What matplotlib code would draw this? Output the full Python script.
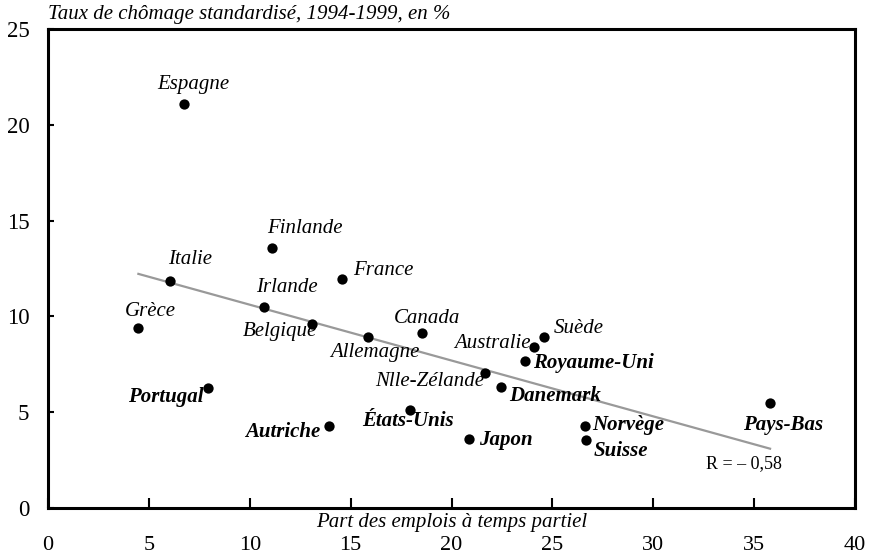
import numpy as np
import matplotlib
matplotlib.use("Agg")
import matplotlib.pyplot as plt

plt.rcParams['font.family'] = ['Liberation Serif', 'DejaVu Serif']

countries = ["Espagne", "Finlande", "Italie", "France", "Irlande", "Grèce", "Belgique",
             "Allemagne", "Canada", "Australie", "Suède", "Royaume-Uni", "Nlle-Zélande",
             "Danemark", "Portugal", "États-Unis", "Autriche", "Japon", "Norvège",
             "Suisse", "Pays-Bas"]
part_time = [6.72, 11.10, 6.05, 14.59, 10.72, 4.48, 13.09, 15.88, 18.52, 24.10, 24.60,
             23.64, 21.66, 22.45, 7.95, 17.94, 13.93, 20.88, 26.62, 26.65, 35.79]
unemployment = [21.09, 13.59, 11.85, 11.97, 10.51, 9.38, 9.59, 8.94, 9.12, 8.42, 8.91,
                7.67, 7.03, 6.33, 6.25, 5.11, 4.28, 3.58, 4.30, 3.55, 5.50]
bold_countries = ["Portugal", "Autriche", "États-Unis", "Japon", "Royaume-Uni",
                  "Danemark", "Norvège", "Suisse", "Pays-Bas"]
x_ticks = [0, 5, 10, 15, 20, 25, 30, 35, 40]
y_ticks = [0, 5, 10, 15, 20, 25]
r_text = "R = – 0,58"
y_title = "Taux de chômage standardisé, 1994-1999, en %"
x_title = "Part des emplois à temps partiel"

# label placement: (dx px, dy px, ha)
label_pos = {
    "Espagne": (10, 19, "center"), "Finlande": (33, 19, "center"),
    "Italie": (20, 21, "center"), "France": (11, 8, "left"),
    "Irlande": (23, 19, "center"), "Grèce": (12, 17, "center"),
    "Belgique": (5, -7, "right"), "Allemagne": (6, -16, "center"),
    "Canada": (5, 15, "center"), "Australie": (-4, 3, "right"),
    "Suède": (9, 9, "left"), "Royaume-Uni": (8, -2, "left"),
    "Nlle-Zélande": (-1, -8, "right"), "Danemark": (8, -9, "left"),
    "Portugal": (-5, -9, "right"), "États-Unis": (-2, -11, "center"),
    "Autriche": (-9, -6, "right"), "Japon": (10, -1, "left"),
    "Norvège": (7, 1, "left"), "Suisse": (8, -11, "left"),
    "Pays-Bas": (13, -22, "center"),
}

fig = plt.figure(figsize=(8.72, 5.57), dpi=100)
ax = fig.add_axes([48/872, 1-508/557, 807/872, 479/557])

x = np.array(part_time)
y = np.array(unemployment)
slope, intercept = np.polyfit(x, y, 1)
xl = np.array([x.min(), x.max()])
ax.plot(xl, intercept + slope*xl, color="#999999", lw=1.6, zorder=2)
ax.scatter(x, y, s=55, color="black", zorder=3, linewidths=0)

for c, xi, yi in zip(countries, part_time, unemployment):
    dx, dy, ha = label_pos[c]
    ax.annotate(c, (xi, yi), xytext=(dx, dy), textcoords="offset pixels",
                ha=ha, va="center", fontsize=15, style="italic",
                fontweight="bold" if c in bold_countries else "normal", zorder=4)

ax.annotate(r_text, (x.max(), intercept + slope*x.max()), xytext=(-26, -15),
            textcoords="offset pixels", ha="center", va="center", fontsize=13)

ax.set_xlim(0, 40)
ax.set_ylim(0, 25)
ax.set_xticks(x_ticks)
ax.set_yticks(y_ticks)
ax.set_xticklabels([str(t) for t in x_ticks], fontsize=16)
ax.set_yticklabels([str(t) for t in y_ticks], fontsize=16.5)
ax.tick_params(axis="x", direction="in", length=7, width=1.5, pad=20.5)
ax.tick_params(axis="y", direction="in", length=4.5, width=1.5, pad=13.5)
for s in ax.spines.values():
    s.set_linewidth(2.2)
    s.set_color("black")

ax.annotate(x_title, (0.5, 0), xycoords="axes fraction", xytext=(0, -15),
            textcoords="offset pixels", ha="center", va="center",
            fontsize=15, style="italic")
ax.annotate(y_title, (0, 1), xycoords="axes fraction", xytext=(0, 15),
            textcoords="offset pixels", ha="left", va="center",
            fontsize=15, style="italic")

fig.savefig("out.png", dpi=100)
